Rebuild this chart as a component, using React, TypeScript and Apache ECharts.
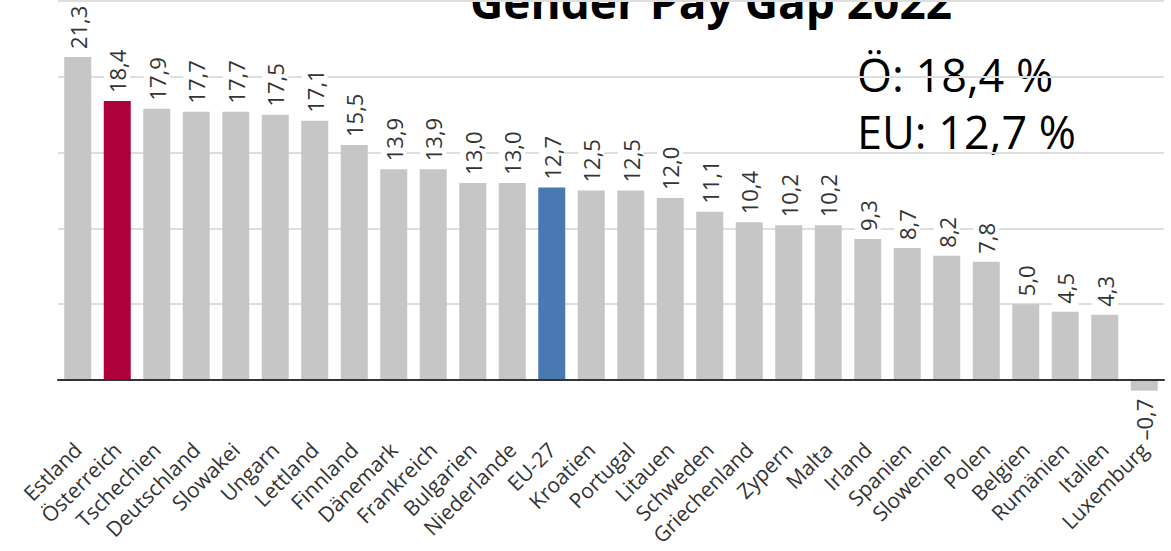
import React, { useEffect, useRef } from "react";
import * as echarts from "echarts";

const categories = ["Estland","Österreich","Tschechien","Deutschland","Slowakei","Ungarn","Lettland","Finnland","Dänemark","Frankreich","Bulgarien","Niederlande","EU-27","Kroatien","Portugal","Litauen","Schweden","Griechenland","Zypern","Malta","Irland","Spanien","Slowenien","Polen","Belgien","Rumänien","Italien","Luxemburg"];
const values = [21.3,18.4,17.9,17.7,17.7,17.5,17.1,15.5,13.9,13.9,13.0,13.0,12.7,12.5,12.5,12.0,11.1,10.4,10.2,10.2,9.3,8.7,8.2,7.8,5.0,4.5,4.3,-0.7];
const titleText = "Gender Pay Gap 2022";
const noteLines = ["Ö: 18,4 %", "EU: 12,7 %"];

const FONT = "'Open Sans', 'Noto Sans', sans-serif";
const GRAY = "#c6c6c6";
const RED = "#ae003a";
const BLUE = "#4a79b2";

function fmt(v: number) {
  const s = Math.abs(v).toFixed(1).replace(".", ",");
  return v < 0 ? "–" + s : s;
}

export default function App() {
  const ref = useRef<HTMLDivElement>(null);
  useEffect(() => {
    document.body.style.margin = "0";
    const chart = echarts.init(ref.current!, null, { renderer: "svg" });
    const data = values.map((v, i) => {
      const c = categories[i];
      const color = c === "Österreich" ? RED : c === "EU-27" ? BLUE : GRAY;
      const item: any = { value: v, itemStyle: { color } };
      if (v < 0) {
        item.label = { position: "bottom", align: "right", distance: 6 };
      }
      return item;
    });
    chart.setOption({
      animation: false,
      grid: { left: 58, right: 7, top: 1, bottom: 171, containLabel: false, outerBoundsMode: "none" },
      xAxis: {
        type: "category",
        data: categories,
        axisLine: { show: true, lineStyle: { color: "#333", width: 2 } },
        axisTick: { show: false },
        axisLabel: {
          interval: 0,
          rotate: 45,
          margin: 66,
          fontSize: 21,
          fontFamily: FONT,
          color: "#333",
        },
        z: 5,
      },
      yAxis: {
        type: "value",
        min: 0,
        max: 25,
        interval: 5,
        axisLabel: { show: false },
        axisLine: { show: false },
        axisTick: { show: false },
        splitLine: { show: true, lineStyle: { color: "#dedede", width: 2 } },
      },
      series: [
        {
          type: "bar",
          data,
          barWidth: 27,
          clip: false,
          label: {
            show: true,
            position: "top",
            rotate: 90,
            align: "left",
            verticalAlign: "middle",
            distance: 6,
            fontSize: 22,
            fontFamily: FONT,
            color: "#333",
            backgroundColor: "#fff",
            padding: [2, 2],
            formatter: (p: any) => fmt(p.value),
          },
        },
      ],
      graphic: [
        {
          type: "text",
          x: 711,
          y: 1,
          style: {
            text: titleText,
            fontSize: 46,
            fontWeight: "bold",
            fontFamily: FONT,
            fill: "#000",
            textAlign: "center",
            textVerticalAlign: "middle",
          },
        },
        {
          type: "text",
          x: 857,
          y: 74,
          style: {
            text: noteLines[0],
            fontSize: 45,
            fontFamily: FONT,
            fill: "#000",
            textAlign: "left",
            textVerticalAlign: "middle",
          },
        },
        {
          type: "text",
          x: 857,
          y: 131,
          style: {
            text: noteLines[1],
            fontSize: 45,
            fontFamily: FONT,
            fill: "#000",
            textAlign: "left",
            textVerticalAlign: "middle",
          },
        },
      ],
    });
    return () => chart.dispose();
  }, []);
  return <div ref={ref} style={{ width: 1171, height: 551 }} />;
}
